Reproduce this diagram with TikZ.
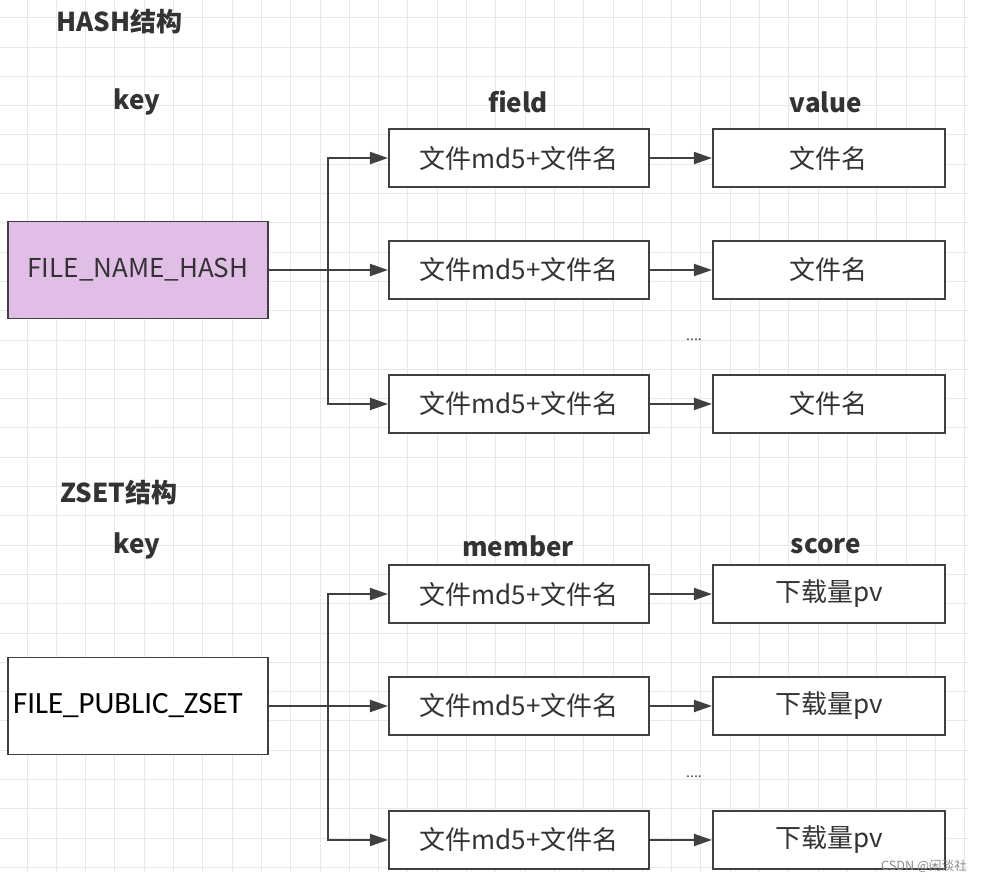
\documentclass[tikz,border=0pt]{standalone}
\usepackage{fontspec}
\usepackage{xcolor}
\usetikzlibrary{arrows.meta,positioning}
\newfontfamily\cjk{Noto Sans CJK SC}
\newfontfamily\calib{Carlito}
\definecolor{hsInk}{HTML}{333333}
\definecolor{hsLine}{HTML}{404040}
\definecolor{hsGrid}{HTML}{E8E8E8}
\definecolor{hsLilac}{HTML}{E0BEE6}
\tikzset{
  cell/.style={
    draw=hsLine,
    line width=1.4pt,
    fill=white,
    minimum width=65mm,
    minimum height=14.5mm,
    inner sep=0pt,
    text=hsInk,
    font=\cjk\fontsize{18.5}{22}\selectfont
  },
  valcell/.style={cell, minimum width=58mm},
  keycell/.style={cell, minimum height=24.25mm},
  head/.style={text=hsInk, font=\cjk\bfseries\fontsize{18.5}{22}\selectfont},
  dots/.style={text=hsLine, font=\cjk\fontsize{10}{12}\selectfont},
  joint/.style={line width=1.4pt, draw=hsLine},
  link/.style={-{Triangle[length=4.5mm,width=3mm]}, line width=1.4pt, draw=hsLine},
  gridline/.style={draw=hsGrid, line width=0.6pt}
}

\begin{document}
\begin{tikzpicture}[node distance=13mm and 15.5mm]
  \useasboundingbox (0,0) rectangle (24.625,-22.025);
  % background grid
  \foreach \i in {0,...,32}
    \draw[gridline] ({0.675+0.7325*\i},0) -- ({0.675+0.7325*\i},-21.8);
  \foreach \j in {-1,...,28}
    \draw[gridline] (0,{-1.175-0.7325*\j}) -- (24.2,{-1.175-0.7325*\j});

  % HASH
  \node[head] (hashTitle) at (2.99,-0.55) {HASH结构};
  \node[head] (hashKeyHead) at (3.425,-2.55) {key};
  \node[head] (fieldHead) at (12.95,-2.55) {field};
  \node[head] (valueHead) at (20.65,-2.55) {value};
  \node[keycell, fill=hsLilac, font=\cjk\fontsize{18.5}{22}\selectfont] (hashKey) at (3.45,-6.75) {FILE\_NAME\_HASH};
  \node[cell, right=29.75mm of hashKey] (field2) {文件md5+文件名};
  \node[cell, above=13mm of field2] (field1) {文件md5+文件名};
  \node[cell, below=18.5mm of field2] (field3) {文件md5+文件名};
  \node[valcell, right=of field1] (value1) {文件名};
  \node[valcell, right=of field2] (value2) {文件名};
  \node[valcell, right=of field3] (value3) {文件名};
  \node[dots] (hashDots) at (17.35,-8.5) {....};
  \coordinate (hashFork) at (8.2,-6.75);

  \draw[joint] (hashKey) -- (hashFork);
  \draw[link] (hashFork) |- (field1);
  \draw[link] (hashFork) -- (field2);
  \draw[link] (hashFork) |- (field3);
  \draw[link] (field1) -- (value1);
  \draw[link] (field2) -- (value2);
  \draw[link] (field3) -- (value3);

  % ZSET
  \node[head] (zsetTitle) at (2.975,-12.325) {ZSET结构};
  \node[head] (zsetKeyHead) at (3.425,-13.65) {key};
  \node[head] (memberHead) at (12.95,-13.65) {member};
  \node[head] (scoreHead) at (20.65,-13.65) {score};
  \node[keycell, text=black, font=\calib\fontsize{22}{26}\selectfont] (zsetKey) at (3.45,-17.65) {\hspace*{-5mm}FILE\_PUBLIC\_ZSET};
  \node[cell, right=29.75mm of zsetKey] (member2) {文件md5+文件名};
  \node[cell, above=13mm of member2] (member1) {文件md5+文件名};
  \node[cell, below=18.5mm of member2] (member3) {文件md5+文件名};
  \node[valcell, right=of member1] (score1) {下载量pv};
  \node[valcell, right=of member2] (score2) {下载量pv};
  \node[valcell, right=of member3] (score3) {下载量pv};
  \node[dots] (zsetDots) at (17.35,-19.425) {....};
  \coordinate (zsetFork) at (8.2,-17.65);

  \draw[joint] (zsetKey) -- (zsetFork);
  \draw[link] (zsetFork) |- (member1);
  \draw[link] (zsetFork) -- (member2);
  \draw[link] (zsetFork) |- (member3);
  \draw[link] (member1) -- (score1);
  \draw[link] (member2) -- (score2);
  \draw[link] (member3) -- (score3);

  \node[text=black!45, font=\cjk\fontsize{9}{11}\selectfont] (mark) at (23.1,-21.65) {CSDN @闲淡社};
\end{tikzpicture}
\end{document}
